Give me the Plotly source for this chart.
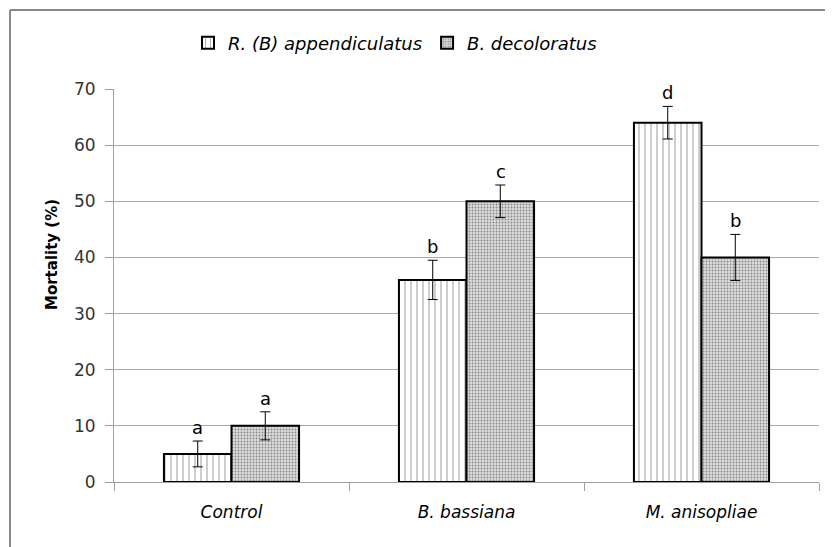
import plotly.graph_objects as go

categories = ["Control", "B. bassiana", "M. anisopliae"]
series_names = ["R. (B) appendiculatus", "B. decoloratus"]
r_values = [5, 36, 64]
r_errors = [2.3, 3.5, 2.9]
b_values = [10, 50, 40]
b_errors = [2.5, 2.9, 4.1]
r_letters = ["a", "b", "d"]
b_letters = ["a", "c", "b"]
y_ticks = [0, 10, 20, 30, 40, 50, 60, 70]

FONT = "DejaVu Sans"

fig = go.Figure()
fig.add_trace(go.Bar(
    name=series_names[0], x=categories, y=r_values,
    error_y=dict(type="data", array=r_errors, color="black", thickness=1, width=5),
    marker=dict(color="white", line=dict(color="black", width=2),
                pattern=dict(shape="|", fgcolor="#222222", bgcolor="white", size=6, solidity=0.15)),
))
fig.add_trace(go.Bar(
    name=series_names[1], x=categories, y=b_values,
    error_y=dict(type="data", array=b_errors, color="black", thickness=1, width=5),
    marker=dict(color="#bbbbbb", line=dict(color="black", width=2),
                pattern=dict(shape=".", fgcolor="#333333", bgcolor="#dcdcdc", size=3, solidity=0.3)),
))

for cat, v, e, t in zip(categories, r_values, r_errors, r_letters):
    fig.add_annotation(x=cat, y=v + e, text=t, showarrow=False, xshift=-34,
                       yanchor="bottom", yshift=1, font=dict(family=FONT, size=18, color="black"))
for cat, v, e, t in zip(categories, b_values, b_errors, b_letters):
    fig.add_annotation(x=cat, y=v + e, text=t, showarrow=False, xshift=34,
                       yanchor="bottom", yshift=1, font=dict(family=FONT, size=18, color="black"))

# y-axis title
fig.add_annotation(xref="paper", yref="paper", x=-0.088, y=0.58, text="<b>Mortality (%)</b>",
                   textangle=-90, showarrow=False, xanchor="center", yanchor="middle",
                   font=dict(family=FONT, size=15, color="black"))

# outer chart border (top and left visible)
fig.add_shape(type="line", xref="paper", yref="paper", x0=-0.1475, x1=1.05, y0=1.201, y1=1.201,
              line=dict(color="#8a8a8a", width=2))
fig.add_shape(type="line", xref="paper", yref="paper", x0=-0.1475, x1=-0.1475, y0=1.201, y1=-0.3,
              line=dict(color="#8a8a8a", width=2))

fig.update_layout(
    width=833, height=547,
    margin=dict(l=106, r=22, t=81, b=73),
    paper_bgcolor="white", plot_bgcolor="white",
    barmode="group", bargap=0.425, bargroupgap=0,
    font=dict(family=FONT, color="black"),
    showlegend=True,
    legend=dict(orientation="h", x=0.105, xanchor="left", y=1.117, yanchor="middle",
                font=dict(family=FONT, size=18, style="italic", color="black"),
                itemwidth=30, traceorder="normal"),
    xaxis=dict(showline=True, linecolor="#a0a0a0", linewidth=1, ticks="outside", ticklen=8,
               tickcolor="#a0a0a0", tickson="boundaries", showgrid=False, ticklabelstandoff=15,
               tickfont=dict(family=FONT, size=17, style="italic", color="black")),
    yaxis=dict(range=[0, 70], tickvals=y_ticks, showline=True, linecolor="#a0a0a0", linewidth=1,
               ticks="outside", ticklen=8, tickcolor="#a0a0a0", showgrid=True, gridcolor="#a8a8a8",
               gridwidth=1, zeroline=False, ticklabelstandoff=6,
               tickfont=dict(family=FONT, size=17, color="#333333")),
)

fig.write_html("out.html")
